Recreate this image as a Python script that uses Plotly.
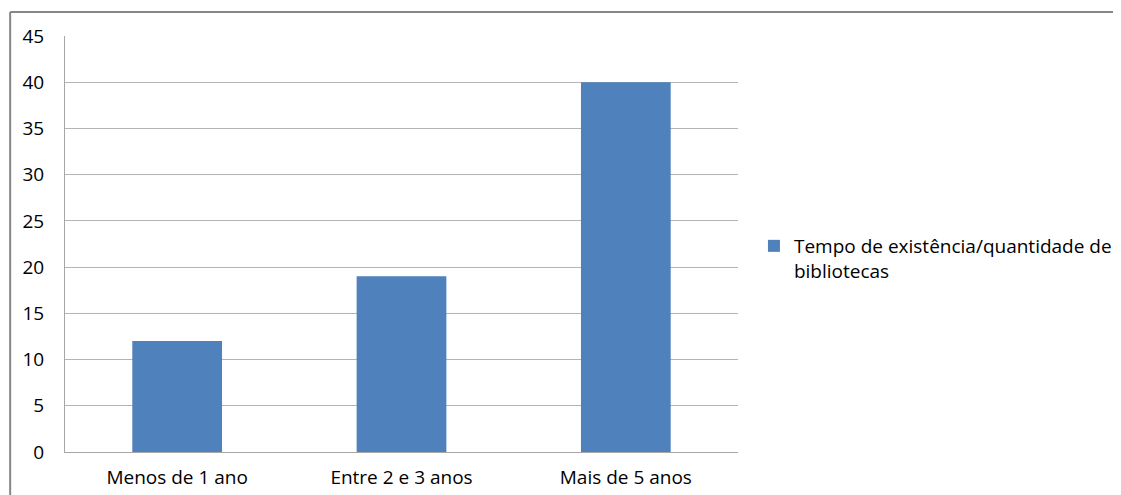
import plotly.graph_objects as go

categories = ["Menos de 1 ano", "Entre 2 e 3 anos", "Mais de 5 anos"]
values = [12, 19, 40]
series_name = "Tempo de existência/quantidade de<br>bibliotecas"

# page body adds an 8px offset; layout coordinates are compensated
OFF = 8
W, H = 1121, 495
L, T, R, B = 65 - OFF, 36 - OFF, 740 - OFF, 452 - OFF
pw, ph = R - L, B - T

def px_x(x):
    return (x - OFF - L) / pw

def px_y(y):
    return (B - (y - OFF)) / ph

fig = go.Figure()
fig.add_trace(go.Bar(x=categories, y=values, name=series_name,
                     marker=dict(color="#4F81BD", line=dict(width=0)),
                     showlegend=True))

font = dict(family="Open Sans", size=19, color="#000000")
border = dict(color="#868686", width=2)
fig.update_layout(
    width=W, height=H,
    margin=dict(l=L, r=W - R, t=T, b=H - B, pad=0),
    paper_bgcolor="white", plot_bgcolor="white",
    font=font,
    bargap=0.6,
    showlegend=True,
    legend=dict(x=px_x(756), y=px_y(227), xanchor="left", yanchor="top",
                valign="top", font=font, bgcolor="rgba(0,0,0,0)",
                itemwidth=30, tracegroupgap=0),
    xaxis=dict(showgrid=False, showline=True, linecolor="#a6a6a6", linewidth=1,
               ticks="", tickfont=font, ticklabelstandoff=8),
    yaxis=dict(range=[0, 45], dtick=5, showgrid=True, gridcolor="#b4b4b4",
               gridwidth=1, showline=True, linecolor="#a6a6a6", linewidth=1,
               ticks="", tickfont=font, ticklabelstandoff=16, zeroline=False),
    shapes=[
        dict(type="line", xref="paper", yref="paper",
             x0=px_x(10), x1=px_x(1200), y0=px_y(12), y1=px_y(12),
             line=border, layer="above"),
        dict(type="line", xref="paper", yref="paper",
             x0=px_x(10), x1=px_x(10), y0=px_y(12), y1=px_y(600),
             line=border, layer="above"),
    ],
)

fig.write_html("out.html")
